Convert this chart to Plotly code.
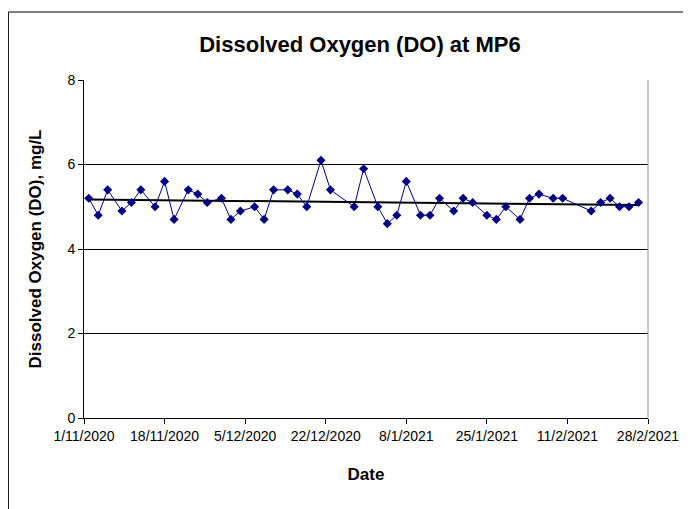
import numpy as np
import pandas as pd
import plotly.graph_objects as go

dates = [
    "2020-11-02", "2020-11-04", "2020-11-06", "2020-11-09", "2020-11-11", "2020-11-13",
    "2020-11-16", "2020-11-18", "2020-11-20", "2020-11-23", "2020-11-25", "2020-11-27",
    "2020-11-30",
    "2020-12-02", "2020-12-04", "2020-12-07", "2020-12-09", "2020-12-11", "2020-12-14",
    "2020-12-16", "2020-12-18", "2020-12-21", "2020-12-23", "2020-12-28", "2020-12-30",
    "2021-01-02", "2021-01-04", "2021-01-06", "2021-01-08", "2021-01-11", "2021-01-13",
    "2021-01-15", "2021-01-18", "2021-01-20", "2021-01-22", "2021-01-25", "2021-01-27",
    "2021-01-29",
    "2021-02-01", "2021-02-03", "2021-02-05", "2021-02-08", "2021-02-10", "2021-02-16",
    "2021-02-18", "2021-02-20", "2021-02-22", "2021-02-24", "2021-02-26",
]
do_values = [
    5.2, 4.8, 5.4, 4.9, 5.1, 5.4, 5.0, 5.6, 4.7, 5.4, 5.3, 5.1, 5.2,
    4.7, 4.9, 5.0, 4.7, 5.4, 5.4, 5.3, 5.0, 6.1, 5.4, 5.0, 5.9,
    5.0, 4.6, 4.8, 5.6, 4.8, 4.8, 5.2, 4.9, 5.2, 5.1, 4.8, 4.7, 5.0,
    4.7, 5.2, 5.3, 5.2, 5.2, 4.9, 5.1, 5.2, 5.0, 5.0, 5.1,
]
tick_dates = ["2020-11-01", "2020-11-18", "2020-12-05", "2020-12-22",
              "2021-01-08", "2021-01-25", "2021-02-11", "2021-02-28"]
tick_labels = ["1/11/2020", "18/11/2020", "5/12/2020", "22/12/2020",
               "8/1/2021", "25/1/2021", "11/2/2021", "28/2/2021"]
y_ticks = [0, 2, 4, 6, 8]

dt = pd.to_datetime(dates)
days = (dt - dt[0]).days.values.astype(float)
slope, intercept = np.polyfit(days, np.array(do_values), 1)
trend_x = [dt[0], dt[-1]]
trend_y = [intercept, intercept + slope * days[-1]]

fig = go.Figure()
fig.add_trace(go.Scatter(
    x=trend_x, y=trend_y, mode="lines",
    line=dict(color="black", width=2), showlegend=False, hoverinfo="skip"))
fig.add_trace(go.Scatter(
    x=dt, y=do_values, mode="lines+markers",
    line=dict(color="#000080", width=1),
    marker=dict(symbol="diamond", size=7, color="#000080"),
    showlegend=False))

font_family = "Liberation Sans, Arial, sans-serif"
W, H = 683, 501
L, T, PW, PH = 76, 72, 567, 338
fig.update_layout(
    width=W, height=H,
    margin=dict(l=L, r=W - L - PW, t=T, b=H - T - PH),
    paper_bgcolor="white", plot_bgcolor="white",
    font=dict(family=font_family, color="black", size=14),
    title=dict(text="<b>Dissolved Oxygen (DO) at MP6</b>",
               x=352 / W, xanchor="center", y=1 - 36 / H, yanchor="middle",
               font=dict(size=22, family=font_family, color="black")),
    xaxis=dict(
        range=[tick_dates[0], tick_dates[-1]],
        tickvals=tick_dates, ticktext=tick_labels,
        showgrid=False, showline=True, linecolor="black", linewidth=1,
        ticks="outside", ticklen=5, tickcolor="black",
        tickfont=dict(size=14, color="black"),
        title=dict(text="<b>Date</b>", font=dict(size=17, color="black"), standoff=25),
        zeroline=False,
    ),
    yaxis=dict(
        range=[0, 8], tickvals=y_ticks,
        showgrid=True, gridcolor="black", gridwidth=1,
        showline=True, linecolor="black", linewidth=1,
        ticks="outside", ticklen=5, tickcolor="black",
        tickfont=dict(size=14, color="black"),
        title=dict(text="<b>Dissolved Oxygen (DO), mg/L</b>",
                   font=dict(size=17, color="black"), standoff=21),
        zeroline=False,
    ),
    shapes=[
        dict(type="line", xref="paper", yref="paper", x0=1, x1=1, y0=0, y1=1,
             line=dict(color="#999999", width=1)),
        dict(type="line", xref="paper", yref="paper",
             x0=(0 - L) / PW, x1=(681 - L) / PW,
             y0=(T + PH - 4) / PH, y1=(T + PH - 4) / PH,
             line=dict(color="black", width=1), layer="below"),
        dict(type="line", xref="paper", yref="paper",
             x0=(0 - L) / PW, x1=(0 - L) / PW,
             y0=(T + PH - 520) / PH, y1=(T + PH - 4) / PH,
             line=dict(color="black", width=1), layer="below"),
        dict(type="line", xref="paper", yref="paper",
             x0=(681 - L) / PW, x1=(681 - L) / PW,
             y0=(T + PH - 520) / PH, y1=(T + PH - 4) / PH,
             line=dict(color="#aaaaaa", width=1), layer="below"),
    ],
)

fig.write_html("out.html")
